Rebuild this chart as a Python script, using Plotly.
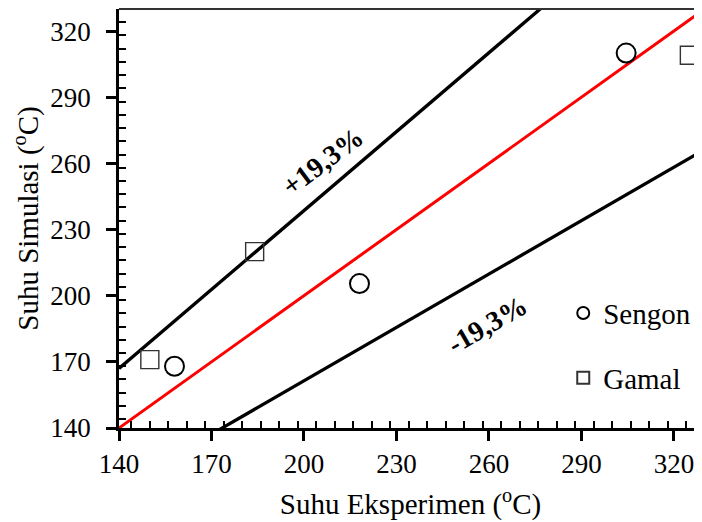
import plotly.graph_objects as go

# data
sengon_x = [158, 218, 304.5]
sengon_y = [168, 205.5, 310]
gamal_x = [150, 184, 325]
gamal_y = [171, 220, 309]
line_x = [140, 335]
dev = 0.193
x_ticks = [140, 170, 200, 230, 260, 290, 320]
y_ticks = [140, 170, 200, 230, 260, 290, 320]

FONT = "Liberation Serif, Times New Roman, serif"

fig = go.Figure()
fig.add_trace(go.Scatter(x=line_x, y=[v for v in line_x], mode="lines",
                         line=dict(color="#ff0000", width=3), showlegend=False))
fig.add_trace(go.Scatter(x=line_x, y=[v * (1 + dev) for v in line_x], mode="lines",
                         line=dict(color="black", width=3.3), showlegend=False))
fig.add_trace(go.Scatter(x=line_x, y=[v * (1 - dev) for v in line_x], mode="lines",
                         line=dict(color="black", width=3.3), showlegend=False))
fig.add_trace(go.Scatter(x=sengon_x, y=sengon_y, mode="markers", name="Sengon",
                         legendgroup="a",
                         marker=dict(symbol="circle-open", size=19, color="black",
                                     line=dict(width=2, color="black"))))
fig.add_trace(go.Scatter(x=gamal_x, y=gamal_y, mode="markers", name="Gamal",
                         legendgroup="b",
                         marker=dict(symbol="square-open", size=18, color="#333333",
                                     line=dict(width=1.4, color="#333333"))))

fig.add_annotation(x=206, y=261, text="<b>+19,3%</b>", showarrow=False, textangle=-37,
                   font=dict(family=FONT, size=28, color="black"))
fig.add_annotation(x=259.5, y=187, text="<b>-19,3%</b>", showarrow=False, textangle=-30,
                   font=dict(family=FONT, size=28, color="black"))

# top frame line
fig.add_shape(type="line", xref="paper", yref="paper", x0=0, x1=1, y0=1, y1=1,
              line=dict(color="#333333", width=2))

fig.update_layout(
    width=694, height=514,
    margin=dict(l=111, r=0, t=1, b=94),
    plot_bgcolor="white", paper_bgcolor="white",
    font=dict(family=FONT, size=27, color="black"),
    legend=dict(x=0.762, y=0.335, xanchor="left", yanchor="top",
                bgcolor="rgba(0,0,0,0)", font=dict(family=FONT, size=29, color="black"),
                tracegroupgap=24, itemsizing="constant"),
)
for ax, rng, tv, title in [(fig.update_xaxes, [140, 329.1], x_ticks, "Suhu Eksperimen (<sup>o</sup>C)"),
                           (fig.update_yaxes, [140, 330], y_ticks, "Suhu Simulasi (<sup>o</sup>C)")]:
    ax(range=rng, tickvals=tv,
       showgrid=False, zeroline=False, showline=True, linecolor="black", linewidth=2.5,
       ticks="outside", ticklen=10, tickwidth=2.5, tickcolor="black",
       tickfont=dict(family=FONT, size=27, color="black"),
       title_text=title, title_font=dict(family=FONT, size=29, color="black"),
       minor=dict(ticks="inside", dtick=6, ticklen=7, tickwidth=2, tickcolor="black"))
fig.update_xaxes(title_standoff=16)
fig.update_yaxes(title_standoff=8, ticklabelstandoff=10)

fig.write_html("out.html")
